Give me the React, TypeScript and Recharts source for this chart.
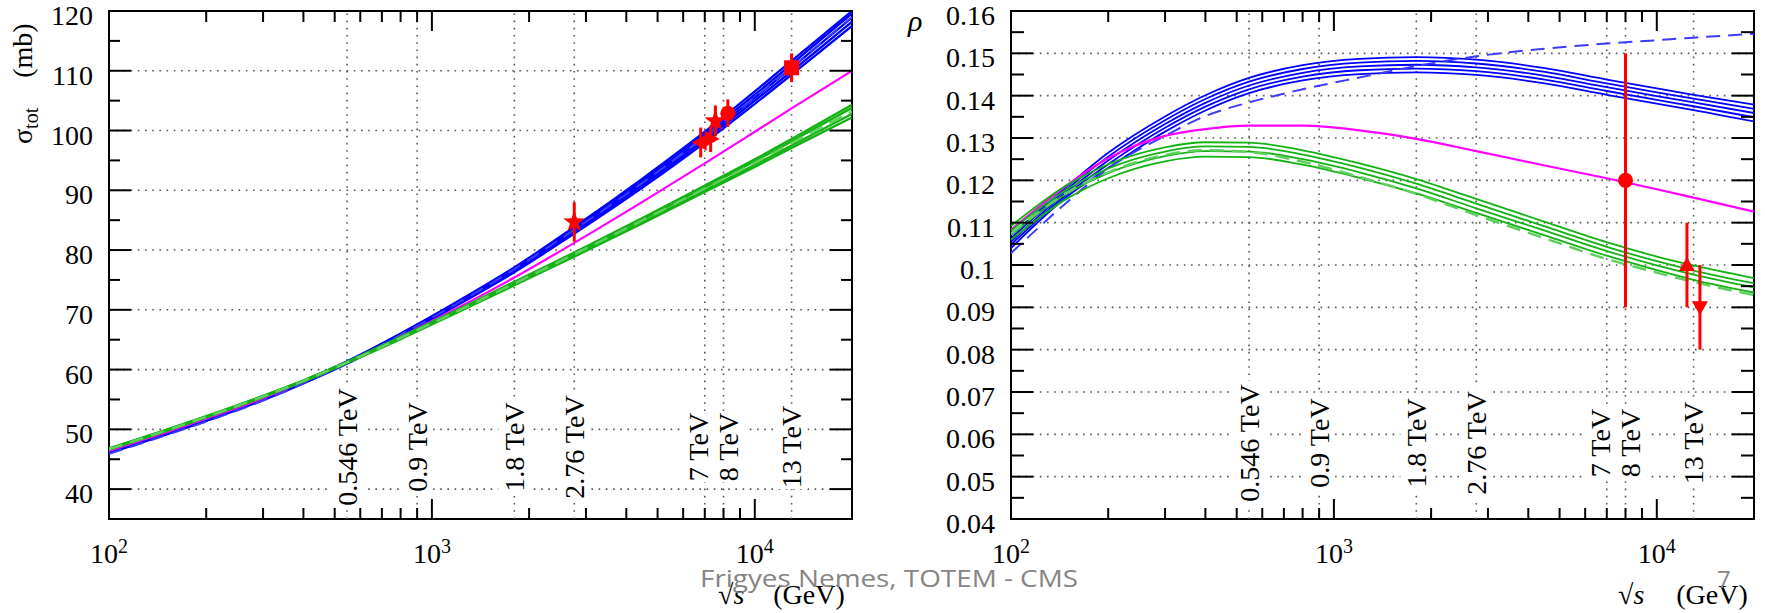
import React from 'react'
import { ComposedChart, Line, Scatter, ErrorBar, XAxis, YAxis, ReferenceLine, ReferenceArea } from 'recharts'

// sqrt(s) grid of the model curves (GeV)
const energies = [100, 150, 200, 300, 400, 546, 800, 1200, 1800, 2760, 4500, 7000, 10000, 13000, 20000]

// sigma_tot (mb): blue band, blue dashed, green band, green dashed, magenta
const sigBlue1 = [46.4, 49.5, 51.8, 55.3, 58.1, 61.4, 66.05, 71.4, 77.1, 83.85, 92.0, 99.8, 106.55, 111.65, 120.0]
const sigBlue2 = [46.3, 49.4, 51.7, 55.2, 58.0, 61.3, 65.9, 71.25, 76.9, 83.6, 91.6, 99.35, 106.0, 111.1, 119.6]
const sigBlue3 = [46.2, 49.3, 51.6, 55.1, 57.9, 61.2, 65.8, 71.1, 76.7, 83.3, 91.25, 98.9, 105.5, 110.5, 118.9]
const sigBlue4 = [46.1, 49.2, 51.5, 55.0, 57.8, 61.1, 65.7, 70.95, 76.5, 83.0, 90.9, 98.45, 105.0, 109.9, 118.2]
const sigBlue5 = [46.0, 49.1, 51.4, 54.9, 57.7, 61.0, 65.55, 70.8, 76.3, 82.75, 90.5, 98.0, 104.45, 109.35, 117.5]
const sigBlueDash = [45.9, 49.0, 51.3, 54.8, 57.7, 61.1, 65.8, 71.1, 76.8, 83.4, 91.3, 99.0, 105.6, 110.6, 119.0]
const sigGreen1 = [46.8, 49.9, 52.2, 55.6, 58.2, 61.3, 65.5, 70.0, 74.7, 79.6, 85.4, 90.8, 95.2, 98.6, 104.3]
const sigGreen2 = [46.75, 49.85, 52.15, 55.55, 58.15, 61.25, 65.4, 69.9, 74.5, 79.45, 85.15, 90.5, 94.85, 98.2, 103.8]
const sigGreen3 = [46.65, 49.75, 52.05, 55.45, 58.05, 61.15, 65.2, 69.7, 74.25, 79.1, 84.75, 90.0, 94.25, 97.5, 102.8]
const sigGreen4 = [46.6, 49.7, 52.0, 55.4, 58.0, 61.1, 65.1, 69.55, 74.1, 78.9, 84.5, 89.7, 93.9, 97.1, 102.2]
const sigGreenDash = [46.7, 49.8, 52.1, 55.5, 58.1, 61.2, 65.3, 69.8, 74.4, 79.3, 85.0, 90.3, 94.6, 97.9, 103.2]
const sigMagenta = [46.4, 49.5, 51.8, 55.2, 58.0, 61.2, 65.5, 70.3, 75.4, 81.2, 88.1, 94.5, 99.8, 103.7, 110.0]

// rho: same layout
const rhoBlue1 = [0.107, 0.1187, 0.1265, 0.1351, 0.1401, 0.1442, 0.1472, 0.1487, 0.1491, 0.1485, 0.1465, 0.1438, 0.1417, 0.1402, 0.1379]
const rhoBlue2 = [0.1063, 0.1181, 0.1256, 0.1342, 0.1392, 0.1433, 0.1463, 0.1478, 0.1482, 0.1476, 0.1456, 0.1429, 0.1408, 0.1393, 0.1369]
const rhoBlue3 = [0.1055, 0.1175, 0.1247, 0.1333, 0.1383, 0.1424, 0.1454, 0.1469, 0.1473, 0.1467, 0.1447, 0.142, 0.1399, 0.1384, 0.1359]
const rhoBlue4 = [0.1048, 0.1169, 0.1238, 0.1324, 0.1374, 0.1415, 0.1445, 0.146, 0.1464, 0.1458, 0.1438, 0.1411, 0.139, 0.1375, 0.1349]
const rhoBlue5 = [0.104, 0.1163, 0.1229, 0.1315, 0.1365, 0.1406, 0.1436, 0.1451, 0.1455, 0.1449, 0.1429, 0.1402, 0.1381, 0.1366, 0.1339]
const rhoBlueDash = [0.1028, 0.115, 0.1228, 0.1305, 0.1352, 0.1384, 0.1415, 0.1443, 0.147, 0.1493, 0.1511, 0.1523, 0.1531, 0.1537, 0.1546]
const rhoGreen1 = [0.1092, 0.119, 0.1238, 0.1278, 0.129, 0.1289, 0.1271, 0.124, 0.1203, 0.1156, 0.1102, 0.1054, 0.102, 0.0999, 0.0969]
const rhoGreen2 = [0.1081, 0.118, 0.1228, 0.1268, 0.128, 0.1279, 0.1261, 0.123, 0.1192, 0.1145, 0.1091, 0.1043, 0.1009, 0.0987, 0.0957]
const rhoGreen3 = [0.1071, 0.117, 0.1217, 0.1257, 0.1269, 0.1268, 0.125, 0.1219, 0.1181, 0.1134, 0.1081, 0.1033, 0.0999, 0.0977, 0.0947]
const rhoGreen4 = [0.106, 0.1158, 0.1205, 0.1245, 0.1256, 0.1255, 0.1237, 0.1206, 0.1169, 0.1123, 0.107, 0.1022, 0.0988, 0.0965, 0.0935]
const rhoGreenDash = [0.1074, 0.1172, 0.1219, 0.126, 0.1271, 0.1267, 0.1244, 0.1208, 0.1168, 0.1118, 0.1063, 0.1014, 0.0982, 0.096, 0.0929]
const rhoMagenta = [0.1083, 0.119, 0.1252, 0.1305, 0.1321, 0.1329, 0.1329, 0.1318, 0.1298, 0.1269, 0.1235, 0.1205, 0.1179, 0.1159, 0.1126]

// measurements (red)
const sigStars = [{ x: 2760, y: 84.7, err: 3.3 }, { x: 7550, y: 101.6, err: 2.6 }]
const sigTriLeft = [{ x: 6800, y: 98.0, err: 2.5 }]
const sigTriRight = [{ x: 7300, y: 98.6, err: 2.2 }]
const sigCircles = [{ x: 8250, y: 102.9, err: 2.3 }]
const sigSquares = [{ x: 13000, y: 110.5, err: 2.4 }]
const rhoCircles = [{ x: 8000, y: 0.12, err: 0.03 }]
const rhoTriUp = [{ x: 12400, y: 0.1, err: 0.01 }]
const rhoTriDown = [{ x: 13600, y: 0.09, err: 0.01 }]

// collider energies marked with vertical lines
const beamEnergies = [546, 900, 1800, 2760, 7000, 8000, 13000]
const beamLabels = ['0.546 TeV', '0.9 TeV', '1.8 TeV', '2.76 TeV', '7 TeV', '8 TeV', '13 TeV']

// axes
const xDomain = [100, 20000]
const xTicks = [100, 200, 300, 400, 500, 600, 700, 800, 900, 1000, 2000, 3000, 4000, 5000, 6000, 7000, 8000, 9000, 10000]
const xMajorTicks = [100, 1000, 10000]
const sigDomain = [35, 120]
const sigTicks = [40, 45, 50, 55, 60, 65, 70, 75, 80, 85, 90, 95, 100, 105, 110, 115, 120]
const sigGrid = [40, 50, 60, 70, 80, 90, 100, 110]
const rhoDomain = [0.04, 0.16]
const rhoTicks = [0.04, 0.045, 0.05, 0.055, 0.06, 0.065, 0.07, 0.075, 0.08, 0.085, 0.09, 0.095, 0.1, 0.105, 0.11, 0.115, 0.12, 0.125, 0.13, 0.135, 0.14, 0.145, 0.15, 0.155, 0.16]
const rhoGrid = [0.05, 0.06, 0.07, 0.08, 0.09, 0.1, 0.11, 0.12, 0.13, 0.14, 0.15]

const SERIF = '"Liberation Serif", "Times New Roman", serif'
const RED = '#ff0000'
const BLUE = '#0000ff'
const GREEN = '#13b313'
const PLOT_W = 743
const PLOT_H = 508

function buildRows(b: number[][], bd: number[], g: number[][], gd: number[], m: number[]) {
  return energies.map((x, i) => ({
    x,
    b1: b[0][i], b2: b[1][i], b3: b[2][i], b4: b[3][i], b5: b[4][i], bd: bd[i],
    g1: g[0][i], g2: g[1][i], g3: g[2][i], g4: g[3][i], gd: gd[i], m: m[i],
  }))
}

const sigRows = buildRows([sigBlue1, sigBlue2, sigBlue3, sigBlue4, sigBlue5], sigBlueDash,
  [sigGreen1, sigGreen2, sigGreen3, sigGreen4], sigGreenDash, sigMagenta)
const rhoRows = buildRows([rhoBlue1, rhoBlue2, rhoBlue3, rhoBlue4, rhoBlue5], rhoBlueDash,
  [rhoGreen1, rhoGreen2, rhoGreen3, rhoGreen4], rhoGreenDash, rhoMagenta)

const curveStyles = (bandWidth: number) => [
  { key: 'b1', color: BLUE, width: bandWidth },
  { key: 'b2', color: BLUE, width: bandWidth },
  { key: 'b3', color: BLUE, width: bandWidth },
  { key: 'b4', color: BLUE, width: bandWidth },
  { key: 'b5', color: BLUE, width: bandWidth },
  { key: 'bd', color: '#3c3cff', width: 2, dash: '14 8' },
  { key: 'm', color: '#ff00ff', width: 2.2 },
  { key: 'g1', color: GREEN, width: bandWidth },
  { key: 'g2', color: GREEN, width: bandWidth },
  { key: 'g3', color: GREEN, width: bandWidth },
  { key: 'g4', color: GREEN, width: bandWidth },
  { key: 'gd', color: '#5fcf5f', width: 2.5, dash: '14 8' },
]

// marker shapes
const starShape = (p: any) => {
  const pts: string[] = []
  for (let k = 0; k < 10; k++) {
    const r = k % 2 ? 4.6 : 11.5
    const a = -Math.PI / 2 + (k * Math.PI) / 5
    pts.push(`${p.cx + r * Math.cos(a)},${p.cy + r * Math.sin(a)}`)
  }
  return <polygon points={pts.join(' ')} fill={RED} />
}
const triLeftShape = (p: any) => (
  <polygon points={`${p.cx - 9},${p.cy} ${p.cx + 6},${p.cy - 8} ${p.cx + 6},${p.cy + 8}`} fill={RED} />
)
const triRightShape = (p: any) => (
  <polygon points={`${p.cx + 9},${p.cy} ${p.cx - 6},${p.cy - 8} ${p.cx - 6},${p.cy + 8}`} fill={RED} />
)
const triUpShape = (p: any) => (
  <polygon points={`${p.cx},${p.cy - 8} ${p.cx - 8},${p.cy + 6} ${p.cx + 8},${p.cy + 6}`} fill={RED} />
)
const triDownShape = (p: any) => (
  <polygon points={`${p.cx},${p.cy + 8} ${p.cx - 8},${p.cy - 6} ${p.cx + 8},${p.cy - 6}`} fill={RED} />
)
const circleShape = (p: any) => <circle cx={p.cx} cy={p.cy} r={7.5} fill={RED} />
const squareShape = (p: any) => <rect x={p.cx - 7.5} y={p.cy - 7.5} width={15} height={15} fill={RED} />

const labelNudge: Record<number, number> = { 7000: -6, 8000: 5 }

const beamLabel = (text: string, nudge: number, lift: number) => (p: any) => {
  const vb = p.viewBox
  if (!vb) return null
  const cx = vb.x + nudge
  const cy = vb.y + vb.height - lift
  const len = text.length * 13.4 + 4
  return (
    <g>
      <rect x={cx - 16} y={cy - len / 2} width={32} height={len} fill="#fff" />
      <text x={cx} y={cy} dy={9.5} transform={`rotate(-90 ${cx} ${cy})`} textAnchor="middle"
        fontFamily={SERIF} fontSize={28} fill="#000">{text}</text>
    </g>
  )
}

const xTick = (p: any) => {
  const { x, y, payload } = p
  const v = payload.value
  const major = xMajorTicks.includes(v)
  const len = major ? 20 : 11
  return (
    <g>
      <line x1={x} x2={x} y1={y} y2={y - len} stroke="#000" strokeWidth={2} />
      <line x1={x} x2={x} y1={y - PLOT_H} y2={y - PLOT_H + len} stroke="#000" strokeWidth={2} />
      {major && (
        <text x={x} y={y + 44} textAnchor="middle" fontFamily={SERIF} fontSize={28} fill="#000">
          10<tspan fontSize={20} dy={-10}>{Math.round(Math.log10(v))}</tspan>
        </text>
      )}
    </g>
  )
}

const makeYTick = (isMajor: (v: number) => boolean, fmt: (v: number) => string, minorLen: number) => (p: any) => {
  const { x, y, payload } = p
  const v = payload.value
  const major = isMajor(v)
  const len = major ? 22 : minorLen
  return (
    <g>
      <line x1={x} x2={x + len} y1={y} y2={y} stroke="#000" strokeWidth={2} />
      <line x1={x + PLOT_W} x2={x + PLOT_W - len} y1={y} y2={y} stroke="#000" strokeWidth={2} />
      {major && (
        <text x={x - 16} y={y + 14} textAnchor="end" fontFamily={SERIF} fontSize={28} fill="#000">{fmt(v)}</text>
      )}
    </g>
  )
}

type Marker = { data: { x: number; y: number; err: number }[]; shape: (p: any) => React.ReactElement }

interface PanelProps {
  left: number
  width: number
  marginLeft: number
  marginRight: number
  rows: any[]
  yDomain: number[]
  yTicks: number[]
  grid: number[]
  isMajor: (v: number) => boolean
  fmt: (v: number) => string
  minorLen: number
  lift: number
  bandWidth: number
  markers: Marker[]
}

function Panel({ left, width, marginLeft, marginRight, rows, yDomain, yTicks, grid, isMajor, fmt, minorLen, lift, bandWidth, markers }: PanelProps) {
  // axes get 1px of room so that recharts still draws their (custom) ticks
  return (
    <div style={{ position: 'absolute', left, top: 0 }}>
      <ComposedChart width={width} height={613} data={rows}
        margin={{ top: 11, right: marginRight, bottom: 93, left: marginLeft - 1 }}>
        <XAxis dataKey="x" type="number" scale="log" domain={xDomain} allowDataOverflow ticks={xTicks}
          interval={0} height={1} tickSize={0} tickMargin={0} axisLine={false} tickLine={false} tick={xTick} />
        <YAxis type="number" domain={yDomain} allowDataOverflow ticks={yTicks} interval={0} width={1}
          tickSize={0} tickMargin={0} axisLine={false} tickLine={false} tick={makeYTick(isMajor, fmt, minorLen)} />
        {grid.map((v) => (
          <ReferenceLine key={`h${v}`} y={v} stroke="#555" strokeWidth={1.6} strokeDasharray="1.6 5.6" />
        ))}
        {beamEnergies.map((e, i) => (
          <ReferenceLine key={`v${e}`} x={e} stroke="#555" strokeWidth={1.6} strokeDasharray="1.6 5.6"
            label={beamLabel(beamLabels[i], labelNudge[e] ?? 0, lift)} />
        ))}
        {curveStyles(bandWidth).map((c) => (
          <Line key={c.key} dataKey={c.key} type="monotone" stroke={c.color} strokeWidth={c.width}
            strokeDasharray={c.dash} dot={false} activeDot={false} isAnimationActive={false} />
        ))}
        {markers.map((mk, i) => (
          <Scatter key={`s${i}`} data={mk.data} dataKey="y" shape={mk.shape} isAnimationActive={false}>
            <ErrorBar dataKey="err" direction="y" width={0} stroke={RED} strokeWidth={3} />
          </Scatter>
        ))}
        <ReferenceArea x1={xDomain[0]} x2={xDomain[1]} y1={yDomain[0]} y2={yDomain[1]} fill="none"
          fillOpacity={0} stroke="#000" strokeWidth={2} ifOverflow="visible" />
      </ComposedChart>
    </div>
  )
}

export default function App() {
  return (
    <div style={{ position: 'absolute', left: 0, top: 0, width: 1765, height: 613, background: '#fff', overflow: 'hidden' }}>
      <Panel left={0} width={880} marginLeft={109} marginRight={28} rows={sigRows}
        yDomain={sigDomain} yTicks={sigTicks} grid={sigGrid}
        isMajor={(v) => v % 10 === 0} fmt={(v) => String(v)} minorLen={11} lift={72} bandWidth={2.3}
        markers={[
          { data: sigStars, shape: starShape },
          { data: sigTriLeft, shape: triLeftShape },
          { data: sigTriRight, shape: triRightShape },
          { data: sigCircles, shape: circleShape },
          { data: sigSquares, shape: squareShape },
        ]} />
      <Panel left={880} width={885} marginLeft={131} marginRight={11} rows={rhoRows}
        yDomain={rhoDomain} yTicks={rhoTicks} grid={rhoGrid}
        isMajor={(v) => Math.abs(v * 100 - Math.round(v * 100)) < 1e-6}
        fmt={(v) => String(Math.round(v * 100) / 100)} minorLen={13} lift={76} bandWidth={1.8}
        markers={[
          { data: rhoCircles, shape: circleShape },
          { data: rhoTriUp, shape: triUpShape },
          { data: rhoTriDown, shape: triDownShape },
        ]} />
      <svg width={1765} height={613} style={{ position: 'absolute', left: 0, top: 0, pointerEvents: 'none' }}>
        <text transform="translate(32,144) rotate(-90)" fontFamily={SERIF} fontSize={28} fill="#000">
          σ<tspan fontSize={20} dy={6}>tot</tspan>
          <tspan dy={-6} dx={30}>(mb)</tspan>
        </text>
        <text x={908} y={31} fontFamily={SERIF} fontSize={30} fontStyle="italic" fill="#000">ρ</text>
        <text x={718} y={604} fontFamily={SERIF} fontSize={28} fill="#000">
          √<tspan fontStyle="italic">s</tspan>
          <tspan dx={29}>(GeV)</tspan>
        </text>
        <text x={1618} y={604} fontFamily={SERIF} fontSize={28} fill="#000">
          √<tspan fontStyle="italic">s</tspan>
          <tspan dx={32}>(GeV)</tspan>
        </text>
        <text x={700} y={587} fontFamily='"Open Sans", sans-serif' fontSize={24} fill="#858585"
          textLength={378} lengthAdjust="spacingAndGlyphs">Frigyes Nemes, TOTEM - CMS</text>
        <text x={1717} y={588} fontFamily='"Open Sans", sans-serif' fontSize={24} fill="#858585">7</text>
      </svg>
    </div>
  )
}
